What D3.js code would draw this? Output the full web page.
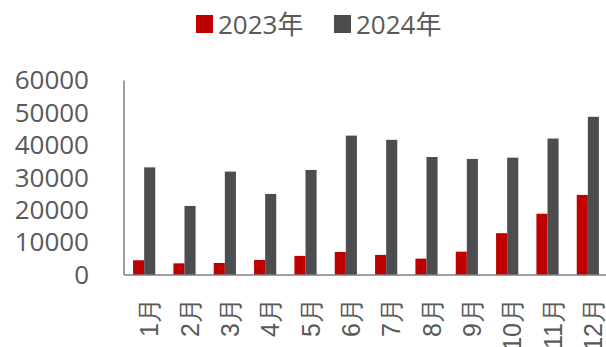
<!DOCTYPE html>
<html>
<head>
<meta charset="utf-8">
<script src="https://cdn.jsdelivr.net/npm/d3@7"></script>
<style>
  html, body { margin: 0; padding: 0; background: #fff; }
  svg { display: block; font-family: "Open Sans", "Noto Sans CJK SC", sans-serif; }
</style>
</head>
<body>
<svg id="chart" width="606" height="347"></svg>
<script>
// Monthly values for two years
const months = ["1月", "2月", "3月", "4月", "5月", "6月", "7月", "8月", "9月", "10月", "11月", "12月"];
const seriesNames = ["2023年", "2024年"];
const values2023 = [4550, 3600, 3700, 4650, 5900, 7100, 6200, 5050, 7200, 12900, 18900, 24700];
const values2024 = [33200, 21300, 31900, 25000, 32400, 43000, 41700, 36400, 35800, 36200, 42100, 48800];
const yTicks = [0, 10000, 20000, 30000, 40000, 50000, 60000];
const colors = ["#C00000", "#4D4D4F"];

const svg = d3.select("#chart");
const textColor = "#595959";
const axisColor = "#7F7F7F";

const x0 = d3.scaleBand().domain(months).range([124, 608]).paddingInner(0.45).paddingOuter(0.225);
const x1 = d3.scaleBand().domain(seriesNames).range([0, x0.bandwidth()]);
const y = d3.scaleLinear().domain([0, 60000]).range([275, 80.5]);

const rows = months.map((m, i) => ({ month: m, vals: [values2023[i], values2024[i]] }));

// Bars
const groups = svg.append("g").selectAll("g")
  .data(rows).join("g")
  .attr("transform", d => `translate(${x0(d.month)},0)`);
groups.selectAll("rect")
  .data(d => d.vals.map((v, k) => ({ name: seriesNames[k], v, k })))
  .join("rect")
  .attr("x", d => x1(d.name))
  .attr("width", x1.bandwidth())
  .attr("y", d => y(d.v))
  .attr("height", d => y(0) - y(d.v))
  .attr("fill", d => colors[d.k]);

// Y axis labels
const yAxis = svg.append("g")
  .attr("transform", "translate(89,0)")
  .call(d3.axisLeft(y).tickValues(yTicks).tickSize(0).tickPadding(0).tickFormat(d3.format("d")));
yAxis.select(".domain").remove();
yAxis.selectAll("text")
  .attr("fill", textColor)
  .style("font-size", "26px")
  .style("font-family", "'Open Sans', sans-serif");

// Axis lines
svg.append("line")
  .attr("x1", 124).attr("x2", 124)
  .attr("y1", y(60000)).attr("y2", y(0))
  .attr("stroke", axisColor).attr("stroke-width", 1.5);
svg.append("line")
  .attr("x1", 124).attr("x2", 606)
  .attr("y1", y(0)).attr("y2", y(0))
  .attr("stroke", axisColor).attr("stroke-width", 1.5);

// Category labels, rotated
const xAxis = svg.append("g")
  .attr("transform", `translate(0,${y(0)})`)
  .call(d3.axisBottom(x0).tickSize(0).tickPadding(0));
xAxis.select(".domain").remove();
xAxis.selectAll("text")
  .attr("fill", textColor)
  .style("font-size", "25px")
  .attr("text-anchor", "end")
  .attr("dy", null)
  .attr("y", 0)
  .attr("dominant-baseline", "central")
  .attr("transform", "translate(5,23) rotate(-90)");

// Legend
const legendItems = [
  { name: seriesNames[0], color: colors[0], x: 196 },
  { name: seriesNames[1], color: colors[1], x: 334 }
];
const legend = svg.append("g").selectAll("g").data(legendItems).join("g")
  .attr("transform", d => `translate(${d.x},15)`);
legend.append("rect")
  .attr("width", 17).attr("height", 18)
  .attr("fill", d => d.color);
legend.append("text")
  .attr("x", 22).attr("y", 9)
  .attr("dominant-baseline", "central")
  .attr("fill", textColor)
  .style("font-size", "26px")
  .text(d => d.name);
</script>
</body>
</html>
